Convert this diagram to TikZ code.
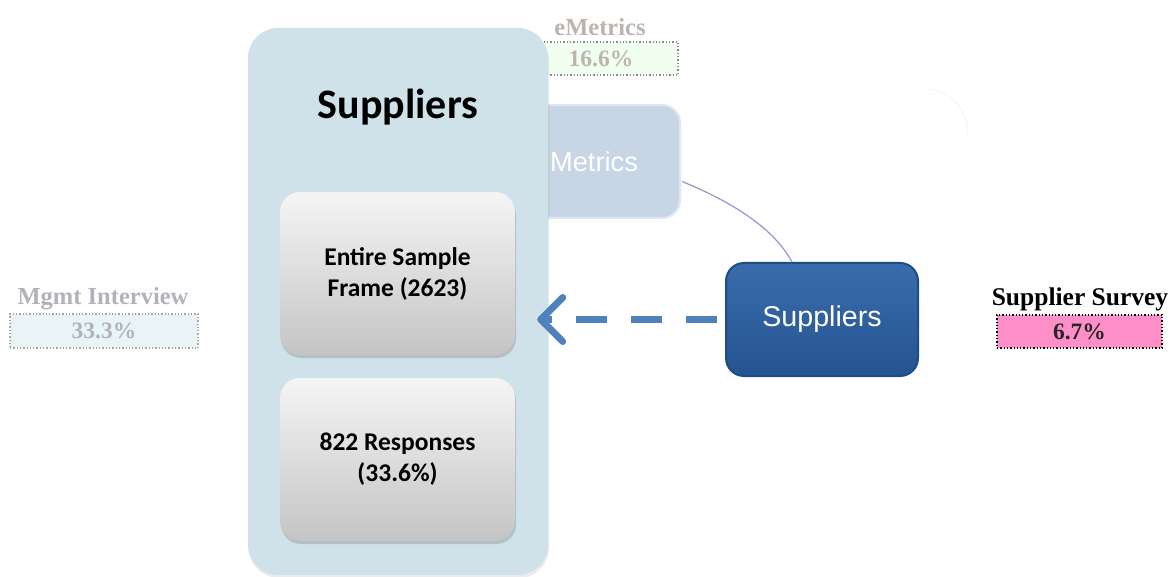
\documentclass[tikz,border=0pt]{standalone}
\usepackage{fontspec}
\setmainfont{Liberation Serif}
\newfontfamily\calib{Carlito}
\newfontfamily\arialf{Liberation Sans}
\usetikzlibrary{calc,arrows.meta,shadows}
\definecolor{panelfill}{HTML}{CFE2EA}
\definecolor{metfill}{HTML}{C7D5E5}
\definecolor{metborder}{HTML}{DCE7F3}
\definecolor{darkfill}{HTML}{2D5F9E}
\definecolor{darktop}{HTML}{3A6CAD}
\definecolor{darkbot}{HTML}{25548F}
\definecolor{darkborder}{HTML}{1E4C85}
\definecolor{arrowblue}{HTML}{4F81BD}
\definecolor{curvecol}{HTML}{9C9AD0}
\definecolor{fadetext}{HTML}{B2B2BC}
\definecolor{fadetextb}{HTML}{BCB4AE}
\definecolor{mgmtfill}{HTML}{E9F4F7}
\definecolor{emfill}{HTML}{F0FFF0}
\definecolor{pinkfill}{HTML}{FF8FC8}
\tikzset{
  panelbox/.style={draw=none, fill=panelfill, rounded corners=30pt, minimum width=300pt, minimum height=547pt, inner sep=0pt},
  innerbox/.style={draw=none, rounded corners=20pt, minimum width=235pt, minimum height=163pt, inner sep=0pt,
    top color=white!96!black, bottom color=black!23, align=center,
    font=\calib\bfseries\fontsize{25.5}{31}\selectfont,
    drop shadow={opacity=0.35, shadow xshift=1pt, shadow yshift=-3pt}},
  metbox/.style={draw=metborder, line width=2pt, fill=metfill, rounded corners=18pt, minimum width=172pt, minimum height=113pt,
    text=white, font=\arialf\fontsize{27.3}{30}\selectfont},
  darkbox/.style={draw=darkborder, line width=2pt, top color=darktop, bottom color=darkbot, rounded corners=18pt,
    minimum width=192pt, minimum height=113pt, text=white, font=\arialf\fontsize{28.6}{30}\selectfont},
  labeltitle/.style={font=\bfseries\fontsize{24.5}{26}\selectfont, inner sep=0pt},
  labelbox/.style={draw, dotted, line width=1.3pt, inner sep=0pt, font=\bfseries\fontsize{23.5}{26}\selectfont},
  conn/.style={draw=curvecol, line width=1.3pt},
  dasharrow/.style={draw=arrowblue, line width=7pt, dash pattern=on 31pt off 24pt,
    -{Straight Barb[length=22pt,width=44pt,line cap=round,line join=round]}}
}
\begin{document}
\begin{tikzpicture}[x=1pt,y=-1pt]
\useasboundingbox (0,0) rectangle (1172,577);
% faded Metrics box behind the panel
\node[metbox] (met) at (594,161.5) {Metrics};
% eMetrics label
\node[labeltitle, text=fadetextb] (emt) at (600,27) {eMetrics};
\node[labelbox, draw=black!45, fill=emfill, text=fadetextb, minimum width=154pt, minimum height=33pt] (emb) at (601,58.5) {16.6\%};
% faint arc at top right
\draw[black!4, line width=1pt] (928,89) .. controls (955,92) and (968,112) .. (968,135);
% main panel
\node[panelbox, drop shadow={opacity=0.15, shadow xshift=1pt, shadow yshift=-3pt}] (panel) at (398,301.5) {};
\node[font=\calib\bfseries\fontsize{42}{46}\selectfont] (title) at (398,107) {Suppliers};
\node[innerbox] (frame) at (397.5,273.5) {Entire Sample\\Frame (2623)};
\node[innerbox] (resp) at (397.5,459.5) {822 Responses\\(33.6\%)};
% dark suppliers box
\node[darkbox] (dark) at (822,319.5) {Suppliers};
% connectors
\draw[conn] ($(met.east)+(1,20)$) .. controls (735,203) and (775,230) .. ($(dark.north)+(-30,0)$);
\draw[dasharrow, shorten <=8pt, shorten >=22pt] (dark.west) -- (dark.west -| frame.east);
% side labels
\node[labeltitle, text=fadetext] (mgt) at (103,299) {Mgmt Interview};
\node[labelbox, draw=black!35, fill=mgmtfill, text=fadetext, minimum width=188pt, minimum height=34pt] (mgb) at (104,331) {33.3\%};
\node[labeltitle, text=black, font=\bfseries\fontsize{25.5}{27}\selectfont] (sst) at (1080,299) {Supplier Survey};
\node[labelbox, draw=black, fill=pinkfill, text=black!85, minimum width=165pt, minimum height=33pt] (ssb) at (1079.5,331.5) {6.7\%};
\end{tikzpicture}
\end{document}
